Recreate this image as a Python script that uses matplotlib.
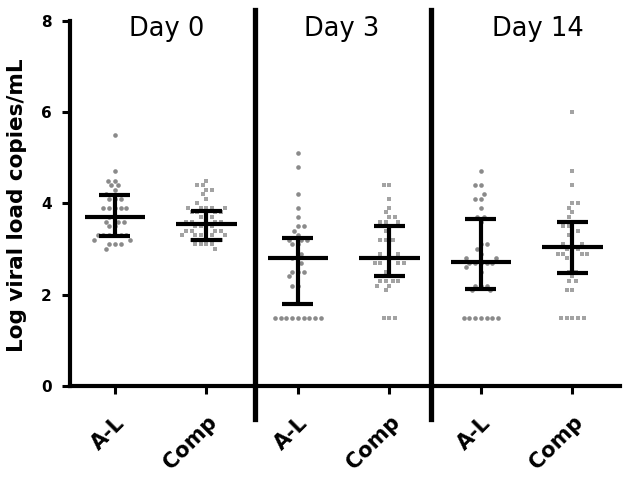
import numpy as np
import matplotlib.pyplot as plt

# groups along the x axis (two per day)
groups = ["A-L", "Comp", "A-L", "Comp", "A-L", "Comp"]
days = ["Day 0", "Day 3", "Day 14"]

# log viral load values
day0_al = [5.5, 4.7, 4.5, 4.5, 4.4, 4.4, 4.3, 4.2, 4.1, 4.1, 4.1,
           3.9, 3.9, 3.9, 3.9, 3.9, 3.7, 3.7, 3.6, 3.6, 3.6, 3.5, 3.5,
           3.3, 3.3, 3.3, 3.3, 3.3, 3.3, 3.2, 3.2, 3.1, 3.1, 3.1, 3.0]
day0_comp = [4.5, 4.4, 4.4, 4.3, 4.3, 4.2, 4.1, 4.0, 3.9, 3.9, 3.9, 3.9, 3.9,
             3.8, 3.8, 3.8, 3.8, 3.7, 3.7, 3.7, 3.6, 3.6, 3.6, 3.6,
             3.5, 3.5, 3.5, 3.5, 3.4, 3.4, 3.4, 3.4, 3.3, 3.3, 3.3, 3.3, 3.3, 3.3,
             3.2, 3.2, 3.2, 3.1, 3.1, 3.1, 3.1, 3.0]
day3_al = [5.1, 4.8, 4.2, 3.9, 3.7, 3.5, 3.5, 3.4, 3.3, 3.2, 3.2, 3.2,
           3.1, 3.1, 2.9, 2.8, 2.8, 2.7, 2.5, 2.5, 2.5, 2.4, 2.2, 2.2,
           1.5, 1.5, 1.5, 1.5, 1.5, 1.5, 1.5, 1.5, 1.5]
day3_comp = [4.4, 4.4, 4.1, 3.9, 3.8, 3.7, 3.7, 3.6, 3.6, 3.6, 3.5, 3.5,
             3.4, 3.3, 3.2, 3.2, 3.2, 3.1, 2.9, 2.9, 2.8, 2.8, 2.8,
             2.7, 2.7, 2.7, 2.7, 2.6, 2.5, 2.4, 2.3, 2.3, 2.3, 2.3,
             2.2, 2.2, 2.1, 1.5, 1.5, 1.5]
day14_al = [4.7, 4.4, 4.4, 4.2, 4.1, 4.1, 3.9, 3.7, 3.7, 3.6, 3.1, 3.1,
            3.0, 2.9, 2.8, 2.8, 2.7, 2.7, 2.7, 2.7, 2.7, 2.6, 2.5,
            2.2, 2.2, 2.2, 2.1, 2.1, 1.5, 1.5, 1.5, 1.5, 1.5, 1.5, 1.5]
day14_comp = [6.0, 4.7, 4.4, 4.0, 4.0, 3.9, 3.8, 3.7, 3.6, 3.6, 3.5, 3.5,
              3.4, 3.4, 3.3, 3.2, 3.1, 3.1, 3.0, 3.0, 3.0, 2.9, 2.9, 2.9, 2.9,
              2.8, 2.8, 2.6, 2.5, 2.5, 2.4, 2.3, 2.3, 2.1, 2.1,
              1.5, 1.5, 1.5, 1.5, 1.5]
all_values = [day0_al, day0_comp, day3_al, day3_comp, day14_al, day14_comp]

# centre line and error bar ends
centers = [3.70, 3.545, 2.80, 2.80, 2.71, 3.05]
lower = [3.29, 3.19, 1.80, 2.41, 2.12, 2.48]
upper = [4.19, 3.83, 3.25, 3.50, 3.65, 3.60]


def swarm(vals, center, sx, sy, d=5.7):
    # simple beeswarm: place points nearest the centre line first
    vals = np.asarray(vals, float)
    order = np.argsort(np.abs(vals - center), kind="stable")
    placed = []
    offs = np.zeros(len(vals))
    for i in order:
        y = vals[i] * sy
        cands = [0.0]
        for px, py in placed:
            dy = abs(y - py)
            if dy < d:
                dx = np.sqrt(d * d - dy * dy)
                cands += [px - dx, px + dx]
        cands.sort(key=lambda c: (round(abs(c), 6), c))
        for c in cands:
            if all((c - px) ** 2 + (y - py) ** 2 >= d * d - 1e-6 for px, py in placed):
                break
        placed.append((c, y))
        offs[i] = c / sx
    return offs


fig = plt.figure(figsize=(6.29, 4.80), dpi=100)
ax = fig.add_axes([70 / 629, 94 / 480, 550 / 629, 365.3 / 480])
ax.set_xlim(-0.49, 5.52)
ax.set_ylim(0, 8)

p0 = ax.transData.transform((0, 0))
p1 = ax.transData.transform((1, 1))
sx, sy = p1[0] - p0[0], p1[1] - p0[1]

for i, vals in enumerate(all_values):
    offs = swarm(vals, centers[i], sx, sy)
    if i % 2 == 0:
        ax.scatter(i + offs, vals, s=11, marker="o", color="#8a8a8a",
                   linewidths=0, zorder=2)
    else:
        ax.scatter(i + offs, vals, s=10, marker="s", color="#a3a3a3",
                   linewidths=0, zorder=2)
    ax.hlines(centers[i], i - 0.33, i + 0.33, color="black", lw=3, zorder=3)
    ax.vlines(i, lower[i], upper[i], color="black", lw=3, zorder=3)
    ax.hlines([lower[i], upper[i]], i - 0.17, i + 0.17, color="black", lw=3, zorder=3)

# day separators, running past the axes
for xd in [1.53, 3.46]:
    ax.plot([xd, xd], [-0.09, 1.03], color="black", lw=3.8,
            transform=ax.get_xaxis_transform(), clip_on=False, zorder=4)

for name, xp in zip(days, [0.57, 2.48, 4.62]):
    ax.text(xp, 7.665, name, ha="center", va="baseline",
            fontsize=18.5, family="DejaVu Sans")

for side in ["top", "right"]:
    ax.spines[side].set_visible(False)
for side in ["left", "bottom"]:
    ax.spines[side].set_linewidth(3)

ax.set_yticks([0, 2, 4, 6, 8])
ax.set_yticklabels(["0", "2", "4", "6", "8"], fontsize=11, fontweight="bold")
ax.set_xticks(range(len(groups)))
ax.set_xticklabels(groups, rotation=45, ha="right", va="top",
                   rotation_mode="anchor", fontsize=15, fontweight="bold")
ax.tick_params(axis="both", length=6, width=2.2, direction="out")
ax.tick_params(axis="y", pad=7)
ax.tick_params(axis="x", pad=13)

ax.set_ylabel("Log viral load copies/mL", fontsize=15.5, fontweight="bold")
ax.yaxis.set_label_coords(-0.078, 0.495)

fig.savefig("out.png", dpi=100)
